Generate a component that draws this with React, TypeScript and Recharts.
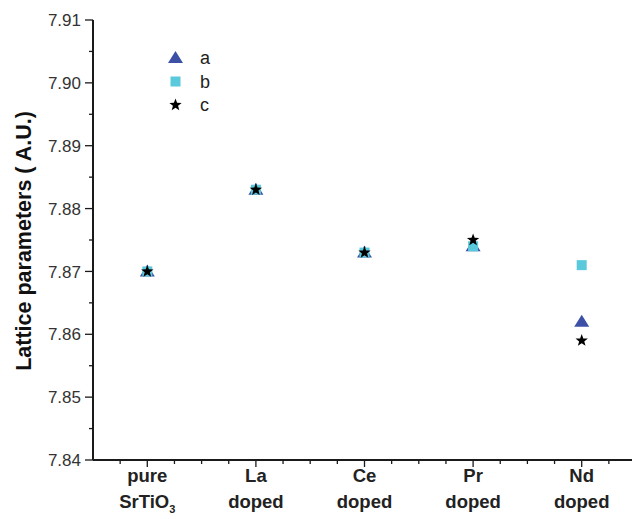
import React from "react";
import { ScatterChart, Scatter, XAxis, YAxis, Legend } from "recharts";

const categories = ["pure", "La", "Ce", "Pr", "Nd"];
const categorySub = ["SrTiO", "doped", "doped", "doped", "doped"];
const seriesA = [7.870, 7.883, 7.873, 7.874, 7.862];
const seriesB = [7.870, 7.883, 7.873, 7.874, 7.871];
const seriesC = [7.870, 7.883, 7.873, 7.875, 7.859];
const yMajorTicks = [7.84, 7.85, 7.86, 7.87, 7.88, 7.89, 7.90, 7.91];
const yMinorTicks = [7.845, 7.855, 7.865, 7.875, 7.885, 7.895, 7.905];
const rightTicks = [1, 2, 3, 4, 5, 6, 7, 8];

const BLUE = "#3c50a6";
const CYAN = "#5bc9dc";
const INK = "#1a1a1a";
const FONT = "Arial, 'Liberation Sans', Helvetica, sans-serif";

const toPoints = (vals: number[]) => vals.map((v, i) => ({ x: i + 0.5, y: v }));

const xTicks: number[] = [];
for (let q = 1; q < 20; q++) xTicks.push(q / 4);
const yTicks = [...yMajorTicks, ...yMinorTicks].sort((p, q) => p - q);

const isMajorY = (v: number) => yMajorTicks.some((m) => Math.abs(m - v) < 1e-6);

const Triangle = ({ cx, cy }: any) => (
  <polygon points={`${cx},${cy - 7} ${cx - 7.5},${cy + 5} ${cx + 7.5},${cy + 5}`} fill={BLUE} />
);
const Square = ({ cx, cy }: any) => (
  <rect x={cx - 5} y={cy - 5} width={10} height={10} fill={CYAN} />
);
const Star = ({ cx, cy }: any) => {
  const pts: string[] = [];
  for (let k = 0; k < 10; k++) {
    const r = k % 2 === 0 ? 6.5 : 2.7;
    const ang = -Math.PI / 2 + (k * Math.PI) / 5;
    pts.push(`${cx + r * Math.cos(ang)},${cy + r * Math.sin(ang)}`);
  }
  return <polygon points={pts.join(" ")} fill="#000" />;
};

const LeftTick = ({ x, y, payload }: any) => {
  const major = isMajorY(payload.value);
  return (
    <g>
      <line x1={x} x2={x - (major ? 8 : 4)} y1={y} y2={y} stroke={INK} strokeWidth={1.3} />
      {major && (
        <text x={x - 12} y={y} dy="0.36em" textAnchor="end" fontSize={17} fontFamily={FONT} fill="#333">
          {payload.value.toFixed(2)}
        </text>
      )}
    </g>
  );
};

const BottomTick = ({ x, y, payload }: any) => {
  const idx = payload.value - 0.5;
  const major = Math.abs(idx - Math.round(idx)) < 1e-6;
  const i = Math.round(idx);
  return (
    <g>
      <line x1={x} x2={x} y1={y} y2={y + (major ? 7 : 4)} stroke={INK} strokeWidth={1.3} />
      {major && (
        <text x={x} y={y} textAnchor="middle" fontSize={18.5} fontWeight="bold" fontFamily={FONT} fill="#222">
          <tspan x={x} y={y + 22}>{categories[i]}</tspan>
          <tspan x={x} y={y + 48}>
            {categorySub[i]}
            {i === 0 && <tspan fontSize={11} dy={5}>3</tspan>}
          </tspan>
        </text>
      )}
    </g>
  );
};

const TopTick = ({ x, y }: any) => (
  <line x1={x} x2={x} y1={y} y2={y + 5} stroke={INK} strokeWidth={1.3} />
);

const RightTick = ({ x, y }: any) => (
  <line x1={x} x2={x - 7} y1={y} y2={y} stroke={INK} strokeWidth={1.3} />
);

const legendItems = [
  { name: "a", Shape: Triangle },
  { name: "b", Shape: Square },
  { name: "c", Shape: Star },
];

const renderLegend = () => (
  <svg width={60} height={75}>
    {legendItems.map((it, i) => (
      <g key={it.name}>
        <it.Shape cx={15.5} cy={13 + i * 23.5} />
        <text x={40} y={19 + i * 23.5} fontSize={18} fontFamily={FONT} fill="#222">
          {it.name}
        </text>
      </g>
    ))}
  </svg>
);

export default function App() {
  return (
    <div style={{ position: "absolute", left: 0, top: 0, width: 632, height: 519, overflow: "hidden", background: "#fff" }}>
      <ScatterChart width={640} height={519} margin={{ top: 20, right: 4, bottom: 0, left: 0 }}>
        <XAxis
          xAxisId="bottom"
          type="number"
          dataKey="x"
          domain={[0, 5]}
          ticks={xTicks}
          interval={0}
          height={59}
          tickSize={0}
          tickMargin={0}
          tickLine={false}
          axisLine={{ stroke: INK, strokeWidth: 2 }}
          tick={<BottomTick />}
        />
        <XAxis
          xAxisId="top"
          orientation="top"
          type="number"
          domain={[0, 5]}
          ticks={xTicks}
          interval={0}
          height={0}
          tickSize={0}
          tickMargin={0}
          tickLine={false}
          axisLine={{ stroke: INK, strokeWidth: 2 }}
          tick={<TopTick />}
        />
        <YAxis
          yAxisId="left"
          type="number"
          dataKey="y"
          domain={[7.84, 7.91]}
          ticks={yTicks}
          interval={0}
          width={93}
          tickSize={0}
          tickMargin={0}
          tickLine={false}
          axisLine={{ stroke: INK, strokeWidth: 2 }}
          tick={<LeftTick />}
          label={{
            content: () => (
              <text
                transform="translate(31, 241) rotate(-90)"
                textAnchor="middle"
                fontSize={21.5}
                fontWeight="bold"
                fontFamily={FONT}
                fill="#111"
              >
                Lattice parameters ( A.U.)
              </text>
            ),
          }}
        />
        <YAxis
          yAxisId="right"
          orientation="right"
          type="number"
          domain={[0, 9]}
          ticks={rightTicks}
          interval={0}
          width={0}
          tickSize={0}
          tickMargin={0}
          tickLine={false}
          axisLine={{ stroke: INK, strokeWidth: 2 }}
          tick={<RightTick />}
        />
        <Legend
          layout="vertical"
          align="center"
          verticalAlign="middle"
          content={renderLegend}
          wrapperStyle={{ position: "absolute", left: 160, top: 45, width: 60, height: 75 }}
        />
        <Scatter xAxisId="bottom" yAxisId="left" name="a" data={toPoints(seriesA)} shape={<Triangle />} isAnimationActive={false} />
        <Scatter xAxisId="bottom" yAxisId="left" name="b" data={toPoints(seriesB)} shape={<Square />} isAnimationActive={false} />
        <Scatter xAxisId="bottom" yAxisId="left" name="c" data={toPoints(seriesC)} shape={<Star />} isAnimationActive={false} />
      </ScatterChart>
    </div>
  );
}
